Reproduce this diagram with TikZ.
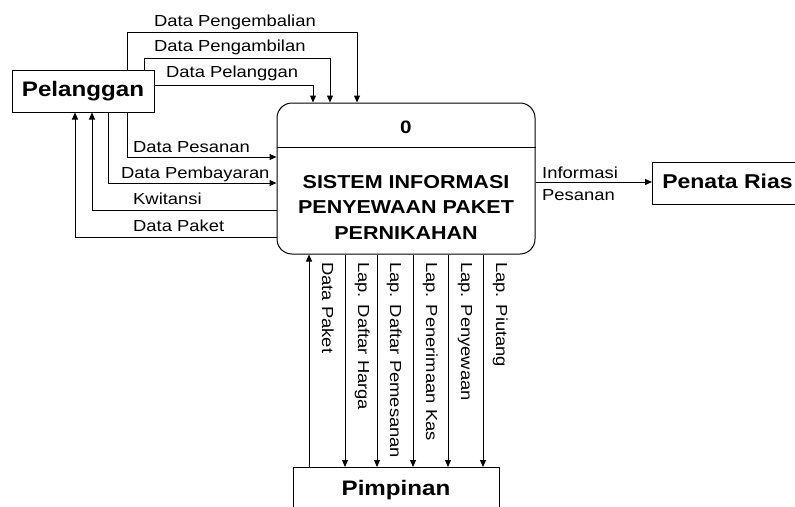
\documentclass[tikz,border=0pt]{standalone}
\usepackage{fontspec}
\setmainfont{Liberation Sans}[FakeStretch=1.15]
\usetikzlibrary{arrows.meta}
\tikzset{
  flow/.style={draw, line width=1pt, -{Triangle[length=7pt,width=6pt]}},
  ent/.style={draw, line width=1pt, inner sep=0pt, font=\fontsize{21}{24}\selectfont\bfseries, text height=15pt, text depth=4pt},
  lbl/.style={inner sep=0pt, anchor=base west, font=\fontsize{16}{19}\selectfont},
  vlbl/.style={lbl, rotate=-90},
  proc/.style={draw, line width=1pt, rounded corners=15pt, minimum width=258pt, minimum height=151pt, inner sep=0pt}
}
\begin{document}
\begin{tikzpicture}[x=1pt,y=-1pt]
\useasboundingbox (0,0) rectangle (795,506);
\clip (0,0) rectangle (795,506);
% entities
\node[ent, minimum width=142pt, minimum height=42pt] (pel) at (83,91) {Pelanggan};
\node[ent, font=\fontsize{20}{24}\selectfont\bfseries, minimum width=150pt, minimum height=42pt, anchor=west] (pr) at (652,183) {Penata Rias};
\node[ent, minimum width=206pt, minimum height=44pt, anchor=north] (pim) at (396,467) {Pimpinan};
% process
\node[proc] (proc) at (406,178.5) {};
\draw[line width=1pt] (proc.west |- 0,147) -- (proc.east |- 0,147);
\node[font=\fontsize{18}{20}\selectfont\bfseries, inner sep=0pt] (pid) at (406,127) {0};
\node[font=\fontsize{18.7}{25.5}\selectfont\bfseries, inner sep=0pt, align=center] (ptitle) at (406,207) {SISTEM INFORMASI\\PENYEWAAN PAKET\\PERNIKAHAN};
% flows from/to Pelanggan
\draw[flow] (pel.north -| 127,0) |- (357,32) -- (proc.north -| 357,0);
\draw[flow] (pel.north -| 144,0) |- (330,58) -- (proc.north -| 330,0);
\draw[flow] (pel.east |- 0,85) -| (proc.north -| 313,0);
\draw[flow] (pel.south -| 127,0) |- (proc.west |- 0,157);
\draw[flow] (pel.south -| 108,0) |- (proc.west |- 0,183);
\draw[flow] (proc.west |- 0,210) -| (pel.south -| 92,0);
\draw[flow] (proc.west |- 0,237) -| (pel.south -| 75,0);
\node[lbl] (l1) at (154,27) {Data Pengembalian};
\node[lbl] (l2) at (154,51) {Data Pengambilan};
\node[lbl] (l3) at (166,77) {Data Pelanggan};
\node[lbl] (l4) at (133,152) {Data Pesanan};
\node[lbl] (l5) at (121,178) {Data Pembayaran};
\node[lbl] (l6) at (133,204) {Kwitansi};
\node[lbl] (l7) at (133,231) {Data Paket};
% Penata Rias
\draw[flow] (proc.east |- 0,182) -- (pr.west |- 0,182);
\node[lbl] (l8) at (542,178) {Informasi};
\node[lbl] (l9) at (542,200) {Pesanan};
% Pimpinan
\draw[flow] (pim.north -| 309,0) -- (proc.south -| 309,0);
\foreach \xx in {345,377,413,448,483}
  \draw[flow] (proc.south -| \xx,0) -- (pim.north -| \xx,0);
\node[vlbl] (v1) at (322,262) {Data Paket};
\node[vlbl] (v2) at (358,262) {Lap. Daftar Harga};
\node[vlbl] (v3) at (390,262) {Lap. Daftar Pemesanan};
\node[vlbl] (v4) at (426,262) {Lap. Penerimaan Kas};
\node[vlbl] (v5) at (461,262) {Lap. Penyewaan};
\node[vlbl] (v6) at (496,262) {Lap. Piutang};
\end{tikzpicture}
\end{document}
